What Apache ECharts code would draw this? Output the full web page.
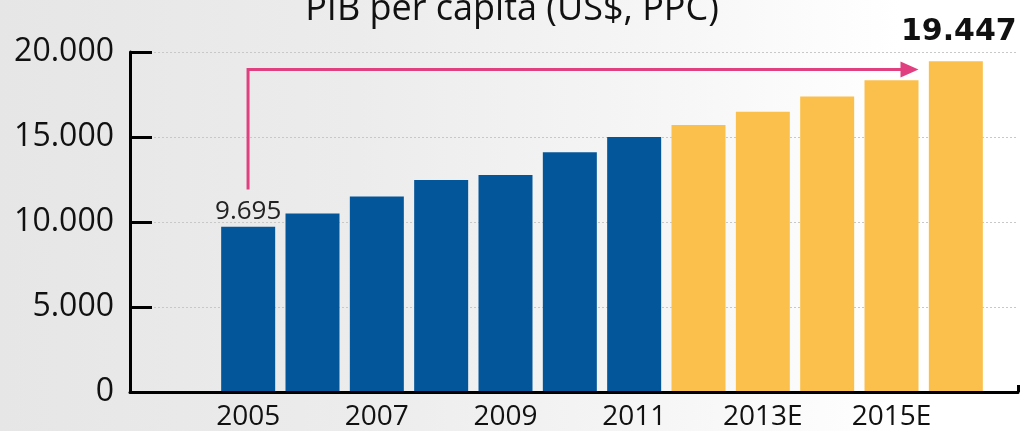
<!DOCTYPE html>
<html>
<head>
<meta charset="utf-8">
<script src="https://cdn.jsdelivr.net/npm/echarts@6/dist/echarts.min.js"></script>
<style>
html,body{margin:0;padding:0;}
#c{width:1023px;height:431px;background:linear-gradient(to right,#e6e6e6 0%,#ececec 35%,#f6f6f6 65%,#ffffff 88%);}
</style>
</head>
<body>
<div id="c"></div>
<script>
const titleText = 'PIB per capita (US$, PPC)';
const years = ['2005','2006','2007','2008','2009','2010','2011','2012E','2013E','2014E','2015E','2016E'];
const actualValues = [9695, 10470, 11470, 12450, 12745, 14080, 14980, null, null, null, null, null];
const estimateValues = [null, null, null, null, null, null, null, 15690, 16470, 17370, 18330, 19447];
const yTicks = [0, 5000, 10000, 15000, 20000];
const arrowPath = [[0, 12000], [0, 18970], [10.27, 18970]];

const fmt = v => String(v).replace(/\B(?=(\d{3})+(?!\d))/g, '.');
const FONT = 'Open Sans';

const chart = echarts.init(document.getElementById('c'), null, {renderer: 'canvas'});
chart.setOption({
  backgroundColor: 'transparent',
  animation: false,
  title: {
    text: titleText, left: 507, textAlign: 'center', top: -13,
    textStyle: {fontFamily: FONT, fontSize: 36, fontWeight: 'normal', color: '#111'}
  },
  grid: [
    {left: 130, right: 5, top: 52, bottom: 39},
    {left: 216, right: 35, top: 52, bottom: 39}
  ],
  xAxis: [
    {
      type: 'value', gridIndex: 0, min: -1.833, max: 11.955, interval: 13.788,
      axisLine: {show: true, onZero: false, lineStyle: {color: '#000', width: 3}},
      axisTick: {show: true, inside: true, length: 7, lineStyle: {color: '#000', width: 3}},
      axisLabel: {show: false}, splitLine: {show: false}
    },
    {
      type: 'category', gridIndex: 1, data: years,
      axisLine: {show: false}, axisTick: {show: false},
      axisLabel: {interval: 1, fontFamily: FONT, fontSize: 28, color: '#111', margin: 12}
    }
  ],
  yAxis: [
    {
      type: 'value', gridIndex: 0, min: 0, max: 20000, interval: 5000,
      axisLine: {show: true, onZero: false, lineStyle: {color: '#000', width: 3}},
      axisTick: {show: true, inside: true, length: 22, lineStyle: {color: '#000', width: 3}},
      axisLabel: {fontFamily: FONT, fontSize: 32, color: '#111', margin: 16, formatter: v => fmt(v)},
      splitLine: {show: true, lineStyle: {color: '#c8c8c8', type: [2, 2], width: 1}}
    },
    {type: 'value', gridIndex: 1, min: 0, max: 20000, show: false}
  ],
  series: [
    {
      type: 'bar', xAxisIndex: 1, yAxisIndex: 1, data: actualValues, stack: 'a',
      barWidth: 54, itemStyle: {color: '#04569a'},
      label: {
        show: true, position: 'top', distance: 2,
        fontFamily: FONT, fontSize: 26, color: '#222',
        formatter: p => p.dataIndex === 0 ? fmt(p.value) : ''
      }
    },
    {
      type: 'bar', xAxisIndex: 1, yAxisIndex: 1, data: estimateValues, stack: 'a',
      barWidth: 54, itemStyle: {color: '#fbc04c'},
      label: {
        show: true, position: 'top', distance: 14, offset: [3, 0],
        fontFamily: 'DejaVu Sans', fontSize: 30, fontWeight: 'bold', color: '#111',
        formatter: p => p.dataIndex === years.length - 1 ? fmt(p.value) : ''
      }
    },
    {
      type: 'line', xAxisIndex: 0, yAxisIndex: 0,
      data: arrowPath.map((p, i) => i === arrowPath.length - 1
        ? {value: p, symbol: 'triangle', symbolSize: [16, 18], symbolRotate: -90, symbolKeepAspect: false}
        : {value: p, symbol: 'none'}),
      showSymbol: true, showAllSymbol: true,
      lineStyle: {color: '#e0407f', width: 3, cap: 'square', join: 'miter'},
      itemStyle: {color: '#e0407f'},
      silent: true, z: 5
    }
  ]
});
</script>
</body>
</html>
